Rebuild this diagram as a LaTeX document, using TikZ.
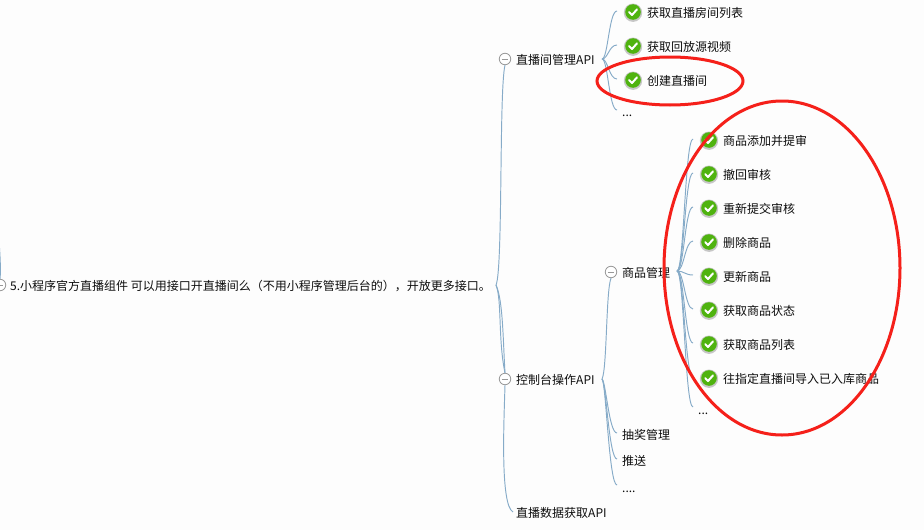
\documentclass[tikz,border=0pt]{standalone}
\usepackage{fontspec}
\setmainfont{Noto Sans CJK SC}
\definecolor{linkc}{HTML}{86ABC8}
\definecolor{redc}{HTML}{F5201A}
\definecolor{okc}{HTML}{4FB30F}
\definecolor{bgc}{HTML}{FDFDFD}
\definecolor{txtc}{HTML}{0D0D0D}
\tikzset{
  x=1pt,y=-1pt,
  lbl/.style={anchor=west,inner sep=0pt,font=\fontsize{12}{14}\selectfont,text=txtc},
  link/.style={draw=linkc,line width=0.95pt},
  fold/.style={circle,draw=gray!80,fill=white,line width=0.8pt,minimum size=11.5pt,inner sep=0pt},
  hoop/.style={draw=redc,line width=3pt}
}
\newcommand{\okmark}[2]{%
  \fill[black!22] (#1,#2+0.7) circle (9.2);
  \fill[okc] (#1,#2) circle (7.8);
  \draw[white,line width=2pt,line cap=round,line join=round] (#1-3.8,#2+0.2) -- (#1-1,#2+3) -- (#1+4,#2-2.6);
}
\newcommand{\foldmark}[1]{\draw[gray!80,line width=0.8pt] ([xshift=-3.4pt]#1.center) -- ([xshift=3.4pt]#1.center);}
\begin{document}
\begin{tikzpicture}
\useasboundingbox (0,0) rectangle (924,530);
\fill[bgc] (0,0) rectangle (924,530);

% nodes
\node[lbl] (root) at (10,286) {5.小程序官方直播组件 可以用接口开直播间么（不用小程序管理后台的），开放更多接口。};
\node[fold] (rootf) at (0,285) {};
\coordinate (rootup) at (-1,240);
\coordinate (rooty) at (496,285);

\node[fold] (af) at (505,59) {};
\node[lbl] (a) at (516,60) {直播间管理API};
\coordinate (ay) at (602,59);
\node[fold] (bf) at (505,379) {};
\node[lbl] (b) at (516,380) {控制台操作API};
\coordinate (by) at (602,379);
\node[lbl] (c) at (516,513) {直播数据获取API};
\coordinate (ce) at (513,512);

\node[lbl] (a1) at (647,13) {获取直播房间列表};
\node[lbl] (a2) at (647,47) {获取回放源视频};
\node[lbl] (a3) at (647,81) {创建直播间};
\node[lbl] (a4) at (622,116) {...};
\coordinate (a1e) at (617,11);
\coordinate (a2e) at (617,45);
\coordinate (a3e) at (617,79);
\coordinate (a4e) at (617,110);
\coordinate (ax) at (609,0);

\node[fold] (mf) at (611,272) {};
\node[lbl] (m) at (622,273) {商品管理};
\coordinate (my) at (677,271);
\node[lbl] (b2) at (622,435) {抽奖管理};
\node[lbl] (b3) at (622,461) {推送};
\node[lbl] (b4) at (622,492) {....};
\coordinate (b2e) at (617,433);
\coordinate (b3e) at (617,459);
\coordinate (b4e) at (617,485);
\coordinate (bx) at (609,0);

\node[lbl] (p1) at (723,141) {商品添加并提审};
\node[lbl] (p2) at (723,175) {撤回审核};
\node[lbl] (p3) at (723,209) {重新提交审核};
\node[lbl] (p4) at (723,243) {删除商品};
\node[lbl] (p5) at (723,277) {更新商品};
\node[lbl] (p6) at (723,311) {获取商品状态};
\node[lbl] (p7) at (723,345) {获取商品列表};
\node[lbl] (p8) at (723,379) {往指定直播间导入已入库商品};
\node[lbl] (p9) at (698,414) {...};
\coordinate (p1e) at (693,139);
\coordinate (p2e) at (693,173);
\coordinate (p3e) at (693,207);
\coordinate (p4e) at (693,241);
\coordinate (p5e) at (693,275);
\coordinate (p6e) at (693,309);
\coordinate (p7e) at (693,343);
\coordinate (p8e) at (693,377);
\coordinate (p9e) at (693,407);
\coordinate (px) at (685,0);

% hoops
\node[draw=none,inner sep=0pt] (small) at (670,81) {};
\node[draw=none,inner sep=0pt] (big) at (782,268) {};

% connectors
\draw[link] (rootf.north) .. controls (1,270) and (0,255) .. (rootup);
\draw[link] (rooty) .. controls (503,270) and (499,90) .. (af.south);
\draw[link] (rooty) .. controls (503,300) and (503,340) .. (bf.north);
\draw[link] (rooty) .. controls (502,300) and (498,340) .. (bf.north);
\draw[link] (bf.south) .. controls (504,420) and (500,505) .. (ce);
\foreach \e in {a1e,a2e,a3e,a4e}{
  \draw[link] (ay) .. controls (608,59) and (ax |- \e) .. (\e);
}
\draw[link] (by) .. controls (607,370) and (606,290) .. (mf.south);
\foreach \e in {b2e,b3e,b4e}{
  \draw[link] (by) .. controls (606,382) and (bx |- \e) .. (\e);
}
\foreach \e in {p1e,p2e,p3e,p4e,p5e,p6e,p7e,p8e,p9e}{
  \draw[link] (my) .. controls (684,271) and (px |- \e) .. (\e);
}

% fold marks
\foldmark{rootf}\foldmark{af}\foldmark{bf}\foldmark{mf}

% check icons
\foreach \y in {12,46,80}{\okmark{633}{\y}}
\foreach \y in {140,174,208,242,276,310,344,378}{\okmark{709}{\y}}

% hand-drawn ellipses
\draw[hoop] (small) ellipse [x radius=73, y radius=24];
\draw[hoop] (big) ellipse [x radius=118, y radius=167];
\end{tikzpicture}
\end{document}
